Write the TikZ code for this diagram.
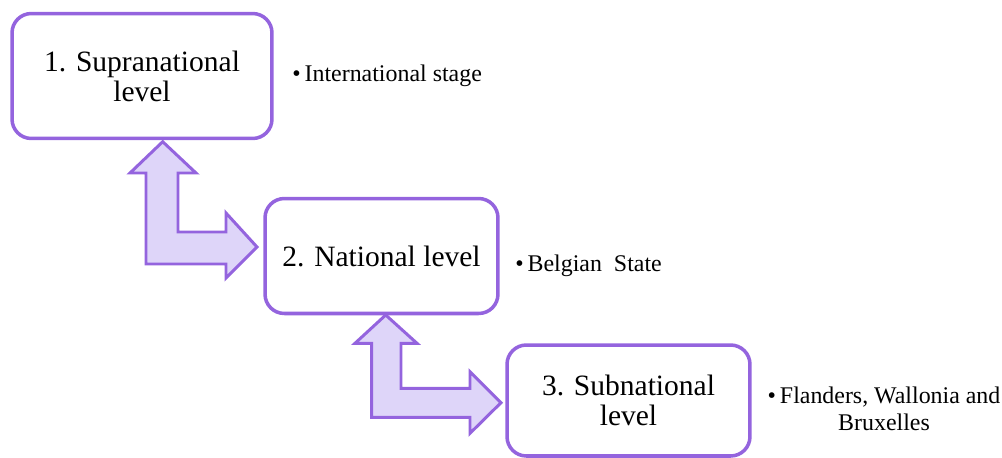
\documentclass[tikz,border=0pt]{standalone}
\usepackage{fontspec}
\setmainfont{Liberation Serif}
\usetikzlibrary{positioning}
\definecolor{lvlline}{RGB}{148,100,222}
\definecolor{lvlfill}{RGB}{222,213,249}

\begin{document}
\begin{tikzpicture}[x=0.02cm,y=-0.02cm,
    lvl/.style={draw=lvlline,line width=2pt,rounded corners=11pt,fill=white,align=center,inner sep=2pt,font=\fontsize{16.8}{17}\selectfont},
    note/.style={font=\fontsize{13.6}{15.7}\selectfont,inner sep=0pt},
    bentarrow/.style={draw=lvlline,line width=1.7pt,fill=lvlfill,line join=miter}
  ]
  \useasboundingbox (0,0) rectangle (1002,457);
  % bent double arrows between the levels
  \draw[bentarrow] (162.7,141.7) -- (196,173) -- (178,173) -- (178,232) -- (226,232) -- (226,213)
    -- (257,247) -- (226,278) -- (226,264) -- (146,264) -- (146,173) -- (130,173) -- cycle;
  \draw[bentarrow] (385.7,315) -- (417,343.3) -- (401,343.3) -- (401,388.3) -- (470,388.3) -- (470,371.7)
    -- (501,402.7) -- (470,433.3) -- (470,417.3) -- (371.7,417.3) -- (371.7,343.3) -- (355,343.3) -- cycle;
  % levels
  \node[lvl,minimum width=5.2cm,minimum height=2.5cm] (sup) at (142,76) {1. Supranational\\level};
  \node[lvl,minimum width=4.66cm,minimum height=2.3cm] (nat) at (381.5,256) {2. National level};
  \node[lvl,minimum width=4.86cm,minimum height=2.22cm] (sub) at (628.5,400.5) {3. Subnational\\level};
  % notes
  \node[note,anchor=base west] (supnote) at (292,81.7) {\textbullet\,International stage};
  \node[note,anchor=base west] (natnote) at (515,271.7) {\textbullet\,Belgian\ \ State};
  \node[note,anchor=base,align=center] (subnote) at (884,430.7) {\textbullet\,Flanders, Wallonia and\\Bruxelles};
\end{tikzpicture}
\end{document}
